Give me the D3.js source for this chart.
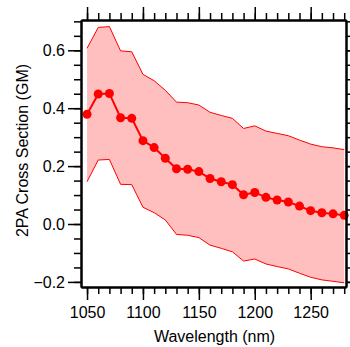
<!DOCTYPE html>
<html>
<head>
<meta charset="utf-8">
<script src="https://cdn.jsdelivr.net/npm/d3@7"></script>
<style>
  body { margin: 0; background: #fff; }
  svg { display: block; }
  .tick text { font-family: "Liberation Sans", Arial, sans-serif; font-size: 16px; fill: #000; }
  .label { font-family: "Liberation Sans", Arial, sans-serif; font-size: 16px; fill: #000; }
</style>
</head>
<body>
<div id="chart"></div>
<script>
// wavelength (nm)
const wavelengths = [1050, 1060, 1070, 1080, 1090, 1100, 1110, 1120, 1130, 1140, 1150, 1160,
                     1170, 1180, 1190, 1200, 1210, 1220, 1230, 1240, 1250, 1260, 1270, 1280];
// 2PA cross section (GM)
const crossSection = [0.379, 0.449, 0.451, 0.367, 0.365, 0.288, 0.264, 0.227, 0.191, 0.189, 0.181, 0.157,
                      0.146, 0.136, 0.101, 0.109, 0.092, 0.083, 0.076, 0.062, 0.046, 0.039, 0.035, 0.030];
const upperBound = [0.607, 0.679, 0.682, 0.598, 0.595, 0.517, 0.495, 0.462, 0.421, 0.419, 0.411, 0.386,
                    0.375, 0.365, 0.330, 0.339, 0.321, 0.313, 0.305, 0.290, 0.276, 0.267, 0.263, 0.257];
const lowerBound = [0.146, 0.221, 0.223, 0.137, 0.136, 0.058, 0.039, 0.014, -0.036, -0.039, -0.047, -0.073,
                    -0.084, -0.096, -0.128, -0.121, -0.138, -0.147, -0.155, -0.170, -0.184, -0.193, -0.198, -0.203];

const xTicks = [1050, 1100, 1150, 1200, 1250];
const yTicks = [-0.2, 0.0, 0.2, 0.4, 0.6];

const width = 350, height = 347;
const plotLeft = 81, plotRight = 346, plotTop = 20, plotBottom = 287;

const svg = d3.select("#chart").append("svg")
  .attr("width", width)
  .attr("height", height);

const x = d3.scaleLinear().domain([1044.6, 1281.6]).range([plotLeft, plotRight]);
const y = d3.scaleLinear().domain([-0.2176, 0.7047]).range([plotBottom, plotTop]);

const xMinor = d3.range(1050, 1281, 10);
const yMinor = d3.range(-0.2, 0.701, 0.05);

const data = wavelengths.map((w, i) => ({ w: w, v: crossSection[i], hi: upperBound[i], lo: lowerBound[i] }));

// error band
svg.append("path")
  .datum(data)
  .attr("fill", "#ffbfbf")
  .attr("d", d3.area().x(d => x(d.w)).y0(d => y(d.lo)).y1(d => y(d.hi)));

svg.append("path")
  .datum(data)
  .attr("fill", "none")
  .attr("stroke", "#ff0000")
  .attr("stroke-width", 1)
  .attr("d", d3.line().x(d => x(d.w)).y(d => y(d.hi)));

svg.append("path")
  .datum(data)
  .attr("fill", "none")
  .attr("stroke", "#ff0000")
  .attr("stroke-width", 1)
  .attr("d", d3.line().x(d => x(d.w)).y(d => y(d.lo)));

// main series
svg.append("path")
  .datum(data)
  .attr("fill", "none")
  .attr("stroke", "#ff0000")
  .attr("stroke-width", 2)
  .attr("d", d3.line().x(d => x(d.w)).y(d => y(d.v)));

svg.selectAll("circle.pt")
  .data(data)
  .enter()
  .append("circle")
  .attr("class", "pt")
  .attr("cx", d => x(d.w))
  .attr("cy", d => y(d.v))
  .attr("r", 4.5)
  .attr("fill", "#ff0000");

// axes: minor ticks
function styleAxis(g) {
  g.selectAll(".domain").attr("stroke", "#000").attr("stroke-width", 2);
  g.selectAll(".tick line").attr("stroke", "#000").attr("stroke-width", 1.5);
}

svg.append("g").attr("transform", `translate(0,${plotBottom})`)
  .call(d3.axisBottom(x).tickValues(xMinor).tickSize(7).tickSizeOuter(0).tickFormat(""))
  .call(styleAxis);
svg.append("g").attr("transform", `translate(0,${plotTop})`)
  .call(d3.axisTop(x).tickValues(xMinor).tickSize(7).tickSizeOuter(0).tickFormat(""))
  .call(styleAxis);
svg.append("g").attr("transform", `translate(${plotLeft},0)`)
  .call(d3.axisLeft(y).tickValues(yMinor).tickSize(7).tickSizeOuter(0).tickFormat(""))
  .call(styleAxis);
svg.append("g").attr("transform", `translate(${plotRight},0)`)
  .call(d3.axisRight(y).tickValues(yMinor).tickSize(7).tickSizeOuter(0).tickFormat(""))
  .call(styleAxis);

// major ticks with labels
svg.append("g").attr("transform", `translate(0,${plotBottom})`)
  .call(d3.axisBottom(x).tickValues(xTicks).tickSize(13).tickPadding(7).tickSizeOuter(0).tickFormat(d3.format("d")))
  .call(styleAxis);
svg.append("g").attr("transform", `translate(0,${plotTop})`)
  .call(d3.axisTop(x).tickValues(xTicks).tickSize(13).tickSizeOuter(0).tickFormat(""))
  .call(styleAxis);
svg.append("g").attr("transform", `translate(${plotLeft},0)`)
  .call(d3.axisLeft(y).tickValues(yTicks).tickSize(13).tickPadding(3).tickSizeOuter(0).tickFormat(d3.format(".1f")))
  .call(styleAxis);
svg.append("g").attr("transform", `translate(${plotRight},0)`)
  .call(d3.axisRight(y).tickValues(yTicks).tickSize(13).tickSizeOuter(0).tickFormat(""))
  .call(styleAxis);

svg.selectAll(".tick text").style("font-size", "16px").attr("fill", "#000");

// titles
svg.append("text")
  .attr("class", "label")
  .attr("x", (plotLeft + plotRight) / 2 + 1)
  .attr("y", 342)
  .attr("text-anchor", "middle")
  .text("Wavelength (nm)");

svg.append("text")
  .attr("class", "label")
  .attr("transform", `translate(28,${(plotTop + plotBottom) / 2 - 3}) rotate(-90)`)
  .attr("text-anchor", "middle")
  .text("2PA Cross Section (GM)");
</script>
</body>
</html>
